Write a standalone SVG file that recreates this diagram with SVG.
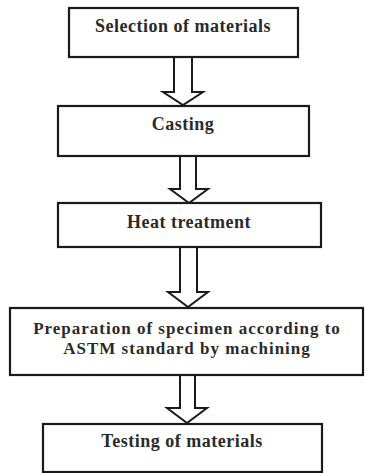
<svg xmlns="http://www.w3.org/2000/svg" width="365" height="473" viewBox="0 0 365 473">
<style>
.box{fill:#fff;stroke:#1a1a1a;stroke-width:2.2}
.arr{fill:#fff;stroke:#1a1a1a;stroke-width:2;stroke-linejoin:miter}
text{font-family:"Liberation Serif","Times New Roman",serif;font-weight:bold;font-size:18px;letter-spacing:0.5px;fill:#2a2a2a;text-anchor:middle}
.sm{font-size:17px;letter-spacing:1px}
</style>
<rect width="365" height="473" fill="#fff"/>
<g id="connectors">
<path class="arr" d="M174,57 V92 H163 L183,105 L203,92 H192 V57"/>
<path class="arr" d="M180,156 V189 H170 L189,203 L208,189 H196 V156"/>
<path class="arr" d="M180,247 V292 H168 L188,307 L208,292 H197 V247"/>
<path class="arr" d="M180,375 V408 H167 L187,423 L207,408 H195 V375"/>
</g>
<g id="n1"><rect class="box" x="69" y="8" width="229" height="49"/><text x="183" y="32">Selection of materials</text></g>
<g id="n2"><rect class="box" x="58" y="106" width="251" height="50"/><text x="183" y="130">Casting</text></g>
<g id="n3"><rect class="box" x="58" y="203" width="263" height="44"/><text x="189" y="228">Heat treatment</text></g>
<g id="n4"><rect class="box" x="10" y="308" width="353" height="67"/><text class="sm" x="187" y="334">Preparation of specimen according to</text><text class="sm" x="187" y="354">ASTM standard by machining</text></g>
<g id="n5"><rect class="box" x="43" y="424" width="279" height="48"/><text x="182" y="447">Testing of materials</text></g>
</svg>
